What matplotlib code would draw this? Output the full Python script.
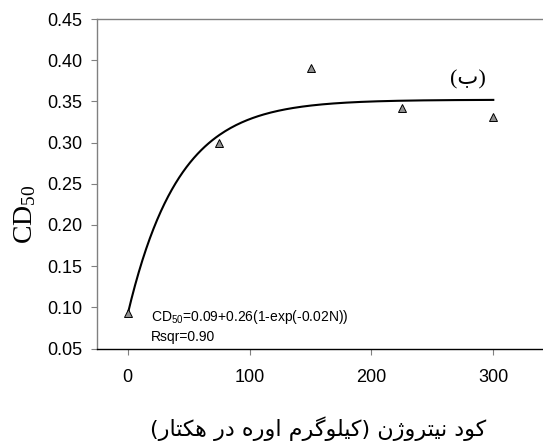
import numpy as np
import matplotlib
matplotlib.use('Agg')
import matplotlib.pyplot as plt

##########################################################
plt.rcParams['font.family'] = ['Liberation Sans', 'DejaVu Sans']
plt.rcParams['mathtext.default'] = 'regular'
##########################################################

# 관측값 (kg urea / ha, CD50)
nitrogen = [0, 75, 150, 225, 300]
cd50 = [0.093, 0.300, 0.390, 0.342, 0.331]

# 회귀식 계수: CD50 = a + b(1-exp(-kN))
FIT_A, FIT_B, FIT_K = 0.092, 0.26, 0.024

yticks = [0.05, 0.10, 0.15, 0.20, 0.25, 0.30, 0.35, 0.40, 0.45]
xticks = [0, 100, 200, 300]

eq_text = 'CD$_{50}$=0.09+0.26(1-exp(-0.02N))'
rsq_text = 'Rsqr=0.90'
xlabel_fa = 'کود نیتروژن (کیلوگرم اوره در هکتار)'
panel_fa = '(ب)'

# 아랍 문자 모양 (matplotlib는 shaping을 하지 않음)
FORMS = {
    'ک': ('\uFB8E', '\uFB8F', '\uFB90', '\uFB91'),
    'گ': ('\uFB92', '\uFB93', '\uFB94', '\uFB95'),
    'ی': ('\uFBFC', '\uFBFD', '\uFBFE', '\uFBFF'),
    'ژ': ('\uFB8A', '\uFB8B', None, None),
    'و': ('\uFEED', '\uFEEE', None, None),
    'د': ('\uFEA9', '\uFEAA', None, None),
    'ر': ('\uFEAD', '\uFEAE', None, None),
    'ا': ('\uFE8D', '\uFE8E', None, None),
    'ن': ('\uFEE5', '\uFEE6', '\uFEE7', '\uFEE8'),
    'ت': ('\uFE95', '\uFE96', '\uFE97', '\uFE98'),
    'ل': ('\uFEDD', '\uFEDE', '\uFEDF', '\uFEE0'),
    'م': ('\uFEE1', '\uFEE2', '\uFEE3', '\uFEE4'),
    'ه': ('\uFEE9', '\uFEEA', '\uFEEB', '\uFEEC'),
    'ب': ('\uFE8F', '\uFE90', '\uFE91', '\uFE92'),
}
MIRROR = {'(': ')', ')': '('}


def shape_rtl(text):
    out = []
    for i, ch in enumerate(text):
        if ch not in FORMS:
            out.append(ch)
            continue
        prev_ch = text[i - 1] if i > 0 else ''
        next_ch = text[i + 1] if i < len(text) - 1 else ''
        join_prev = prev_ch in FORMS and FORMS[prev_ch][2] is not None
        join_next = next_ch in FORMS and FORMS[ch][2] is not None
        iso, fin, ini, med = FORMS[ch]
        if join_prev and join_next:
            out.append(med)
        elif join_prev:
            out.append(fin)
        elif join_next:
            out.append(ini)
        else:
            out.append(iso)
    return ''.join(MIRROR.get(c, c) for c in reversed(out))


fig = plt.figure(figsize=(5.43, 4.42), dpi=100)
ax = fig.add_axes([0.1792, 0.2115, 0.819, 0.7455])

ncurve = np.linspace(0, 300, 200)
ax.plot(ncurve, FIT_A + FIT_B * (1 - np.exp(-FIT_K * ncurve)), color='black', lw=1.5, zorder=2)
ax.plot(nitrogen, cd50, linestyle='None', marker='^', ms=6, mfc='#909090', mec='black', mew=0.7,
        zorder=3, clip_on=False)

ax.set_xlim(-25, 340)
ax.set_ylim(0.05, 0.45)
ax.set_xticks(xticks)
ax.set_yticks(yticks)
ax.set_yticklabels(['%.2f' % v for v in yticks])

ax.spines['right'].set_visible(False)
ax.spines['top'].set_color('#808080')
ax.spines['left'].set_color('#808080')
ax.spines['bottom'].set_color('black')
for s in ['top', 'left', 'bottom']:
    ax.spines[s].set_linewidth(1.0)

ax.tick_params(axis='y', direction='out', length=4, color='#808080', labelsize=13, pad=7)
ax.tick_params(axis='x', direction='out', length=4, color='#808080', labelsize=13, pad=11)

ax.text(18.7, 0.0838, eq_text, fontsize=10, va='baseline', ha='left')
ax.text(18.7, 0.0595, rsq_text, fontsize=10, va='baseline', ha='left')

ax.text(279, 0.376, shape_rtl(panel_fa), fontsize=16, ha='center', va='center',
        family=['Liberation Serif', 'DejaVu Sans'])

fig.text(25 / 543, 1 - 214 / 442, 'CD$_{50}$', rotation=90, fontsize=20, ha='center', va='center',
         family=['Liberation Serif'])
fig.text(318 / 543, 1 - 429 / 442, shape_rtl(xlabel_fa), fontsize=16, ha='center', va='center',
         family=['DejaVu Sans'])

plt.savefig('out.png', dpi=100)
print('out.png saved')
